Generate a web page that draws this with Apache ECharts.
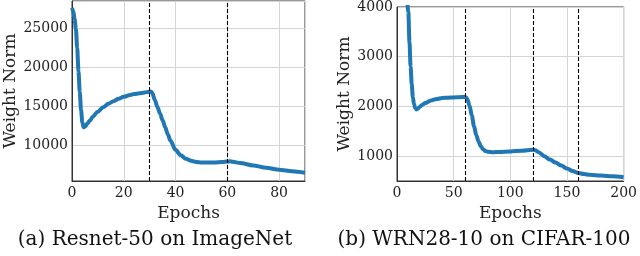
<!DOCTYPE html>
<html><head><meta charset="utf-8">
<script src="https://cdn.jsdelivr.net/npm/echarts@6/dist/echarts.min.js"></script>
<style>html,body{margin:0;padding:0;background:#fff}#c{width:640px;height:256px}</style>
</head><body><div id="c"></div>
<script>
// (a) Resnet-50 on ImageNet
const epochsA = [0,0.5,1,1.5,2,2.5,3,3.5,4,4.5,5,6,7,8,10,12,14,16,18,20,22,24,26,28,30,30.5,31,32,33,34,35,36,37,38,40,42,44,46,48,50,52,55,58,60,61,62,65,70,75,80,85,90];
const normA = [27600,27200,26200,24900,22500,19500,16800,14500,12900,12300,12350,12800,13200,13650,14300,14850,15300,15650,15950,16200,16400,16550,16650,16750,16850,16900,16700,15800,14900,14050,13200,12300,11400,10600,9400,8700,8250,8000,7850,7780,7760,7780,7850,7900,7920,7880,7700,7400,7100,6850,6650,6450];
const lrDropsA = [30, 60];
// (b) WRN28-10 on CIFAR-100
const epochsB = [0,5,8,10,11,12,13,14,15,16,17,18,20,22,25,30,35,40,45,50,55,60,61,62,64,66,68,70,72,74,76,78,80,85,90,100,110,120,122,125,130,135,140,145,150,155,160,165,170,180,190,200];
const normB = [9000,5500,4400,3900,3300,2800,2450,2180,2050,1970,1940,1950,1990,2030,2070,2120,2150,2170,2175,2180,2185,2190,2180,2150,2020,1820,1600,1420,1290,1200,1140,1105,1090,1080,1085,1095,1110,1130,1120,1080,1000,930,870,810,750,700,660,640,625,610,595,575];
const lrDropsB = [60, 120, 160];
const captions = ['(a) Resnet-50 on ImageNet', '(b) WRN28-10 on CIFAR-100'];
const xName = 'Epochs', yName = 'Weight Norm';

const FONT = 'DejaVu Serif';
const chart = echarts.init(document.getElementById('c'), null, {renderer: 'canvas'});
function zip(x, y) { return x.map((v, i) => [v, y[i]]); }
function xAxis(idx, max, interval) {
  return {
    type: 'value', gridIndex: idx, min: 0, max: max, interval: interval,
    name: xName, nameLocation: 'middle', nameGap: 24,
    nameTextStyle: {fontFamily: FONT, fontSize: 17, color: '#222'},
    axisLine: {show: true, lineStyle: {color: '#333', width: 1}},
    axisTick: {show: false},
    axisLabel: {fontFamily: FONT, fontSize: 14, color: '#222', margin: 5, showMaxLabel: idx === 1, formatter: v => String(v)},
    splitLine: {show: true, lineStyle: {color: '#d4d4d4', width: 1}}
  };
}
function yAxis(idx, min, max, gap) {
  return {
    type: 'value', gridIndex: idx, min: min, max: max, splitNumber: 5,
    name: yName, nameLocation: 'middle', nameGap: gap,
    nameTextStyle: {fontFamily: FONT, fontSize: 17, color: '#222'},
    axisLine: {show: true, lineStyle: {color: '#333', width: 1}},
    axisTick: {show: false},
    axisLabel: {fontFamily: FONT, fontSize: 14, color: '#222', margin: 4, showMinLabel: false, showMaxLabel: idx === 1, formatter: v => String(v)},
    splitLine: {show: true, lineStyle: {color: '#d4d4d4', width: 1}}
  };
}
function series(idx, x, y, drops) {
  return {
    type: 'line', xAxisIndex: idx, yAxisIndex: idx, data: zip(x, y),
    showSymbol: false, smooth: 0.3, smoothMonotone: 'x', clip: true,
    lineStyle: {color: '#1f77b4', width: 4}, z: 3,
    markLine: {
      silent: true, symbol: 'none', label: {show: false},
      lineStyle: {color: '#000', width: 1.1, type: [4, 2]},
      data: drops.map(d => ({xAxis: d}))
    }
  };
}
chart.setOption({
  animation: false,
  grid: [
    {left: 72, right: 335, top: 1, bottom: 75, show: true, borderColor: '#333', borderWidth: 1},
    {left: 397, right: 16, top: 7, bottom: 75, show: true, borderColor: '#333', borderWidth: 1}
  ],
  xAxis: [xAxis(0, 90, 20), xAxis(1, 200, 50)],
  yAxis: [yAxis(0, 5400, 28500, 52), yAxis(1, 500, 4000, 44)],
  series: [series(0, epochsA, normA, lrDropsA), series(1, epochsB, normB, lrDropsB)],
  graphic: [
    {type: 'text', style: {text: captions[0], x: 155, y: 240, align: 'center', verticalAlign: 'middle', font: '20px "' + FONT + '"', fill: '#111'}},
    {type: 'text', style: {text: captions[1], x: 484, y: 240, align: 'center', verticalAlign: 'middle', font: '20px "' + FONT + '"', fill: '#111'}}
  ]
});
</script></body></html>
